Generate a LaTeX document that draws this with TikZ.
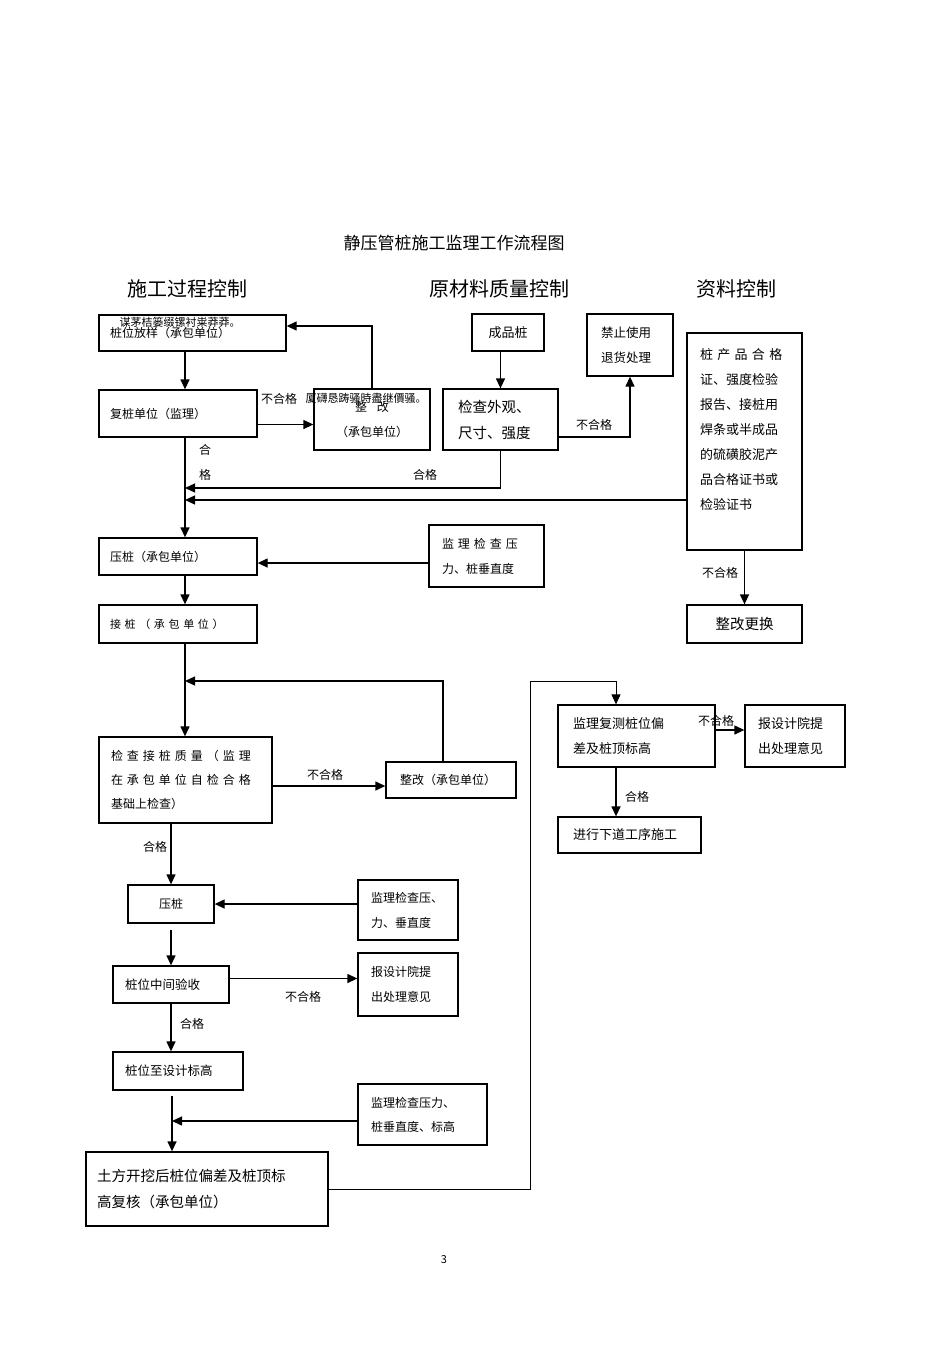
\documentclass[tikz,border=0pt]{standalone}
\usepackage{fontspec}
\setmainfont{Noto Sans CJK SC}
\usetikzlibrary{arrows.meta,positioning}

\begin{document}
\begin{tikzpicture}[x=1pt, y=-1pt,
    box/.style={draw, line width=1.3pt, inner ysep=2pt, font=\fontsize{12}{25}\selectfont},
    link/.style={line width=1.3pt},
    arrow/.style={link, -{Triangle[length=10pt, width=9pt]}},
    lbl/.style={inner sep=1pt, font=\fontsize{12}{12}\selectfont}
  ]
  \useasboundingbox (0,0) rectangle (950,1345);

  % headings
  \node[font=\fontsize{17}{17}\selectfont] (title) at (454,243) {静压管桩施工监理工作流程图};
  \node[font=\fontsize{20}{20}\selectfont] (head1) at (187,289) {施工过程控制};
  \node[font=\fontsize{20}{20}\selectfont] (head2) at (499,289) {原材料质量控制};
  \node[font=\fontsize{20}{20}\selectfont] (head3) at (736,289) {资料控制};

  % left column
  \node[box, minimum width=187pt, minimum height=36pt, text width=165pt, inner xsep=11pt, align=left] (fangyang) at (192.5,333) {桩位放样（承包单位）};
  \node[box, minimum width=158pt, minimum height=47pt, text width=136pt, inner xsep=11pt, align=left] (fuzhuang) at (178,413.5) {复桩单位（监理）};
  \node[box, minimum width=116pt, minimum height=61pt, text width=100pt, inner xsep=8pt, align=center] (zhenggai1) at (372,419.5) {整\hspace{10pt}改\\（承包单位）};
  \node[box, minimum width=158pt, minimum height=37pt, text width=136pt, inner xsep=11pt, align=left] (yazhuang1) at (178,556.5) {压桩（承包单位）};
  \node[box, minimum width=115pt, minimum height=62pt, text width=89pt, inner xsep=13pt, align=left] (jiancha1) at (486.5,556) {\makebox[89pt][s]{监 理 检 查 压}\\力、桩垂直度};
  \node[box, minimum width=158pt, minimum height=38pt, text width=136pt, inner xsep=11pt, align=left, font=\fontsize{11}{25}\selectfont] (jiezhuang) at (178,624) {\makebox[127pt][s]{接 桩 （ 承 包 单 位 ）}};
  \node[box, minimum width=173pt, minimum height=86pt, text width=149pt, inner xsep=12pt, align=left, font=\fontsize{12}{24}\selectfont] (jiejian) at (185.5,780) {\makebox[145pt][s]{检 查 接 桩 质 量 （ 监 理}\\\makebox[145pt][s]{在 承 包 单 位 自 检 合 格}\\基础上检查）};
  \node[box, minimum width=130pt, minimum height=36pt, text width=102pt, inner xsep=14pt, align=left] (zhenggai2) at (451,780) {整改（承包单位）};
  \node[box, minimum width=86pt, minimum height=38pt, text width=70pt, inner xsep=8pt, align=center] (yazhuang2) at (171,904) {压桩};
  \node[box, minimum width=100pt, minimum height=60pt, text width=74pt, inner xsep=13pt, align=left] (jiancha2) at (408,910) {监理检查压、\\力、垂直度};
  \node[box, minimum width=116pt, minimum height=37pt, text width=92pt, inner xsep=12pt, align=left, font=\fontsize{12.5}{25}\selectfont] (zhongjian) at (171,984.5) {桩位中间验收};
  \node[box, minimum width=100pt, minimum height=63pt, text width=74pt, inner xsep=13pt, align=left] (baoshe1) at (408,984.5) {报设计院提\\出处理意见};
  \node[box, minimum width=130pt, minimum height=38pt, text width=106pt, inner xsep=12pt, align=left, font=\fontsize{12.5}{25}\selectfont] (biaogao) at (178,1071) {桩位至设计标高};
  \node[box, minimum width=129pt, minimum height=61pt, text width=103pt, inner xsep=13pt, align=left, font=\fontsize{12}{24}\selectfont] (jiancha3) at (422.5,1114.5) {监理检查压力、\\桩垂直度、标高};
  \node[box, minimum width=242pt, minimum height=74pt, text width=220pt, inner xsep=11pt, align=left, font=\fontsize{14.5}{26}\selectfont] (tufang) at (207,1189) {土方开挖后桩位偏差及桩顶标\\高复核（承包单位）};

  % middle column
  \node[box, minimum width=72pt, minimum height=37pt, text width=60pt, inner xsep=6pt, align=center, font=\fontsize{13}{25}\selectfont] (chengpin) at (508,332.5) {成品桩};
  \node[box, minimum width=115pt, minimum height=61pt, text width=85pt, inner xsep=15pt, align=left, font=\fontsize{14.5}{26}\selectfont] (waiguan) at (500.5,419.5) {检查外观、\\尺寸、强度};
  \node[box, minimum width=86pt, minimum height=62pt, text width=58pt, inner xsep=14pt, align=left, font=\fontsize{12.5}{25}\selectfont] (jinzhi) at (630,345) {禁止使用\\退货处理};

  % right column
  \node[box, minimum width=115pt, minimum height=217pt, text width=89pt, inner xsep=13pt, align=left, font=\fontsize{13}{25}\selectfont] (ziliao) at (744.5,441.5) {\makebox[89pt][s]{桩 产 品 合 格}\\证、强度检验\\报告、接桩用\\焊条或半成品\\的硫磺胶泥产\\品合格证书或\\检验证书\\~};
  \node[box, minimum width=115pt, minimum height=38pt, text width=99pt, inner xsep=8pt, align=center, font=\fontsize{14.5}{25}\selectfont] (genghuan) at (744.5,624) {整改更换};
  \node[box, minimum width=157pt, minimum height=62pt, text width=127pt, inner xsep=15pt, align=left, font=\fontsize{13}{25}\selectfont] (fuce) at (636.5,736) {监理复测桩位偏\\差及桩顶标高};
  \node[box, minimum width=100pt, minimum height=62pt, text width=74pt, inner xsep=13pt, align=left, font=\fontsize{13}{25}\selectfont] (baoshe2) at (795,736) {报设计院提\\出处理意见};
  \node[box, minimum width=143pt, minimum height=36pt, text width=113pt, inner xsep=15pt, align=left, font=\fontsize{13}{25}\selectfont] (xiadao) at (629.5,835) {进行下道工序施工};

  % overprinted text
  \node[font=\fontsize{11}{11}\selectfont] (garble1) at (180,322) {谋茅桔篓缀镙衬粜莽莽。};
  \node[font=\fontsize{11}{11}\selectfont] (garble2) at (366,398) {厦礴恳踌骚時盡继價骚。};

  % junctions
  \coordinate (spine) at (185,0);
  \coordinate (j1) at (185,488);
  \coordinate (j2) at (185,500);
  \coordinate (j3) at (185,681);
  \coordinate (j4) at (172,1096);
  \coordinate (j5) at (172,1121);
  \coordinate (j6) at (530,681);

  % connectors
  \draw[arrow] (fangyang.south -| spine) -- (fuzhuang.north -| spine);
  \draw[arrow] ([yshift=-11pt]fuzhuang.east) -- ([yshift=-11pt]fuzhuang.east -| zhenggai1.west);
  \draw[arrow] (zhenggai1.north) |- ([yshift=7pt]fangyang.east);
  \draw[arrow] (fuzhuang.south -| spine) -- (yazhuang1.north -| spine);
  \draw[arrow] (waiguan.south) |- (j1);
  \draw[arrow] (ziliao.west |- j2) -- (j2);
  \draw[arrow] ([yshift=-7pt]jiancha1.west) -- ([yshift=-7pt]jiancha1.west -| yazhuang1.east);
  \draw[arrow] (yazhuang1.south -| spine) -- (jiezhuang.north -| spine);
  \draw[arrow] (jiezhuang.south -| spine) -- (jiejian.north -| spine);
  \draw[arrow] ([xshift=-8pt]zhenggai2.north) |- (j3);
  \draw[arrow] ([yshift=-6pt]jiejian.east) -- ([yshift=-6pt]jiejian.east -| zhenggai2.west);
  \draw[arrow] (jiejian.south -| yazhuang2.north) -- (yazhuang2.north);
  \draw[arrow] (jiancha2.west |- yazhuang2.east) -- (yazhuang2.east);
  \draw[arrow] ([yshift=-6pt]yazhuang2.south) -- (zhongjian.north);
  \draw[arrow] ([yshift=6pt]zhongjian.east) -- ([yshift=6pt]zhongjian.east -| baoshe1.west);
  \draw[arrow] (zhongjian.south) -- (zhongjian.south |- biaogao.north);
  \draw[arrow] (j4) -- (j4 |- tufang.north);
  \draw[arrow] (jiancha3.west |- j5) -- (j5);
  \draw[arrow, line width=0.9pt] (tufang.east) -| (j6) -| ([xshift=-20.5pt]fuce.north);
  \draw[arrow] (chengpin.south -| waiguan.north) -- (waiguan.north);
  \draw[arrow] ([yshift=-17.5pt]waiguan.east) -| (jinzhi.south);
  \draw[arrow] (ziliao.south) -- (genghuan.north);
  \draw[arrow] ([yshift=6pt]fuce.east) -- ([yshift=6pt]fuce.east -| baoshe2.west);
  \draw[arrow] ([xshift=-20.5pt]fuce.south) -- ([xshift=-20.5pt]fuce.south |- xiadao.north);

  % labels
  \node[lbl] (bad1) at (279,399) {不合格};
  \node[lbl, align=center, font=\fontsize{12}{25}\selectfont] (ok1) at (205,462) {合\\格};
  \node[lbl] (ok2) at (425,475) {合格};
  \node[lbl] (bad2) at (594,425) {不合格};
  \node[lbl] (bad3) at (720,573) {不合格};
  \node[lbl] (bad4) at (325,775) {不合格};
  \node[lbl] (ok3) at (155,847) {合格};
  \node[lbl] (bad5) at (303,997) {不合格};
  \node[lbl] (ok4) at (192,1024) {合格};
  \node[lbl] (bad6) at (716,721) {不合格};
  \node[lbl] (ok5) at (637,797) {合格};

  \node[font=\fontsize{11}{11}\selectfont] (page) at (444,1260) {3};
\end{tikzpicture}
\end{document}
